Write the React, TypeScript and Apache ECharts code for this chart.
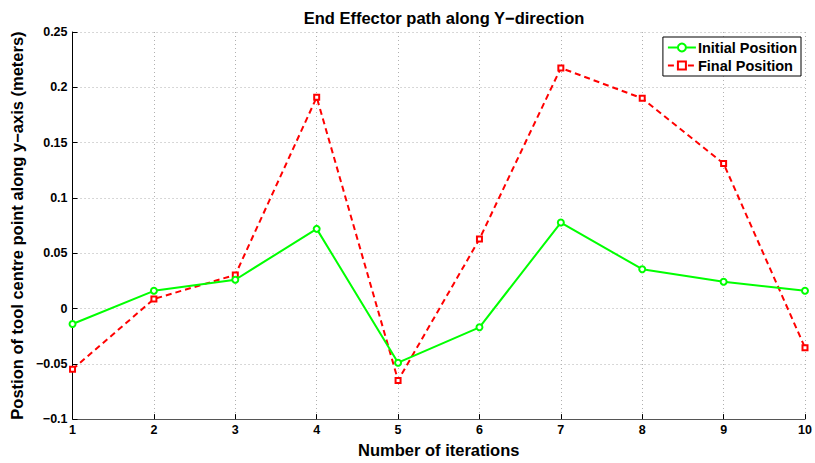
import React, { useEffect, useRef } from "react";
import * as echarts from "echarts";

const iterations = [1, 2, 3, 4, 5, 6, 7, 8, 9, 10];
const initialPosition = [-0.014, 0.016, 0.026, 0.072, -0.049, -0.017, 0.0777, 0.0355, 0.0242, 0.016];
const finalPosition = [-0.055, 0.0086, 0.0304, 0.191, -0.065, 0.0628, 0.2175, 0.19, 0.131, -0.0354];

const FONT = "'Liberation Sans', Arial, Helvetica, sans-serif";

export default function App() {
  const ref = useRef<HTMLDivElement>(null);
  useEffect(() => {
    if (!ref.current) return;
    const chart = echarts.init(ref.current, undefined, { renderer: "svg" });
    const gridLine = { show: true, lineStyle: { color: "#b0b0b0", type: [1, 3] as any, width: 1 } };
    chart.setOption({
      animation: false,
      backgroundColor: "#fff",
      textStyle: { fontFamily: FONT },
      title: {
        text: "End Effector path along Y\u2212direction",
        left: 439,
        textAlign: "center",
        top: 4,
        textStyle: { fontFamily: FONT, fontSize: 16.5, fontWeight: "bold", color: "#000" },
      },
      grid: { left: 72, right: 10, top: 32, bottom: 41, containLabel: false },
      legend: {
        orient: "vertical",
        right: 14,
        top: 37,
        padding: [3, 4, 3, 4],
        itemGap: 3,
        itemWidth: 28,
        itemHeight: 10,
        borderColor: "#000",
        borderWidth: 1,
        backgroundColor: "#fff",
        textStyle: { fontFamily: FONT, fontSize: 14.5, fontWeight: "bold", color: "#000", padding: [0, 0, 0, -3] },
        data: ["Initial Position", "Final Position"],
      },
      xAxis: {
        type: "value",
        min: 1,
        max: 10,
        interval: 1,
        name: "Number of iterations",
        nameLocation: "middle",
        nameGap: 16,
        nameTextStyle: { fontFamily: FONT, fontSize: 16.5, fontWeight: "bold", color: "#000" },
        axisLine: { show: true, onZero: false, lineStyle: { color: "#555", width: 1 } },
        axisTick: { show: true, inside: true, length: 5, lineStyle: { color: "#000" } },
        axisLabel: { fontFamily: FONT, fontSize: 12.5, fontWeight: "bold", color: "#000", margin: 4 },
        splitLine: gridLine,
      },
      yAxis: {
        type: "value",
        min: -0.1,
        max: 0.25,
        interval: 0.05,
        name: "Postion of tool centre point along y\u2212axis (meters)",
        nameLocation: "middle",
        nameGap: 46,
        nameTextStyle: { fontFamily: FONT, fontSize: 16.5, fontWeight: "bold", color: "#000" },
        axisLine: { show: true, lineStyle: { color: "#000", width: 1 } },
        axisTick: { show: true, inside: true, length: 5, lineStyle: { color: "#000" } },
        axisLabel: {
          fontFamily: FONT,
          fontSize: 12.5,
          fontWeight: "bold",
          color: "#000",
          margin: 5,
          formatter: (v: number) => {
            const s = parseFloat(v.toFixed(2)).toString();
            return s.replace("-", "\u2212");
          },
        },
        splitLine: gridLine,
      },
      series: [
        {
          name: "Initial Position",
          type: "line",
          data: iterations.map((x, i) => [x, initialPosition[i]]),
          symbol: "emptyCircle",
          symbolSize: 6,
          lineStyle: { color: "#00ff00", width: 2 },
          itemStyle: { color: "#00ff00", borderColor: "#00ff00", borderWidth: 1.5 },
          z: 3,
        },
        {
          name: "Final Position",
          type: "line",
          data: iterations.map((x, i) => [x, finalPosition[i]]),
          symbol: "emptyRect",
          symbolSize: 5,
          lineStyle: { color: "#ff0000", width: 2, type: [6, 4] as any },
          itemStyle: { color: "#ff0000", borderColor: "#ff0000", borderWidth: 1.5 },
          z: 2,
        },
      ],
    });
    return () => chart.dispose();
  }, []);
  return <div ref={ref} style={{ width: 815, height: 463, position: "absolute", left: 0, top: 0 }} />;
}
